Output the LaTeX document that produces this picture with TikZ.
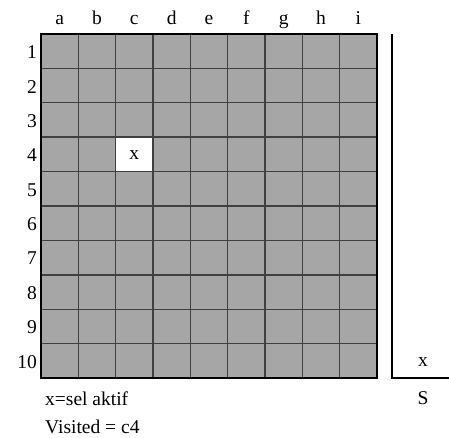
\documentclass[tikz,border=0pt]{standalone}
\usepackage{fontspec}
\setmainfont{Liberation Serif}
\definecolor{cellgray}{HTML}{A6A6A6}
\definecolor{gridline}{HTML}{404040}
\begin{document}
\begin{tikzpicture}[x=1pt,y=-1pt,
  lbl/.style={inner sep=0pt,font=\fontsize{19.5}{22}\selectfont},
  gline/.style={draw=gridline,line width=1.4pt},
  border/.style={draw=black,line width=1.6pt}]
\useasboundingbox (0,0) rectangle (449,438);
\def\cw{37.33}
\def\rh{34.4}
% grid fill
\fill[cellgray] (41,34) rectangle (377,378);
% inner grid lines
\foreach \i in {1,...,8} \draw[gline] ({41+\i*\cw},34) -- ({41+\i*\cw},378);
\foreach \j in {1,...,9} \draw[gline] (41,{34+\j*\rh}) -- (377,{34+\j*\rh});
% active cell c4
\fill[white] ({41+2*\cw+0.6},{34+3*\rh+0.6}) rectangle ({41+3*\cw-0.6},{34+4*\rh-0.6});
\node[lbl] (active) at ({41+2.5*\cw},{34+3.5*\rh+1}) {x};
% border
\draw[border] (41,34) rectangle (377,378);
% column labels
\foreach \l [count=\k from 0] in {a,b,c,d,e,f,g,h,i}
  \node[lbl,anchor=base] (col\l) at ({41+(\k+0.5)*\cw},25) {\l};
% row labels
\foreach \r in {1,...,10}
  \node[lbl,anchor=east] (row\r) at (37,{34+(\r-0.5)*\rh+1}) {\r};
% stack
\coordinate (stop) at (392,34);
\coordinate (sbot) at (392,378);
\coordinate (sright) at (449,378);
\draw[border,line width=1.4pt] (stop) -- (sbot) -- (sright);
\node[lbl] (stackx) at (423,362) {x};
\node[lbl] (stackS) at (423,398) {S};
% legend
\node[lbl,anchor=west] (legend) at (45,399) {x=sel aktif};
\node[lbl,anchor=west] (visited) at (45,427) {Visited = c4};
\end{tikzpicture}
\end{document}
